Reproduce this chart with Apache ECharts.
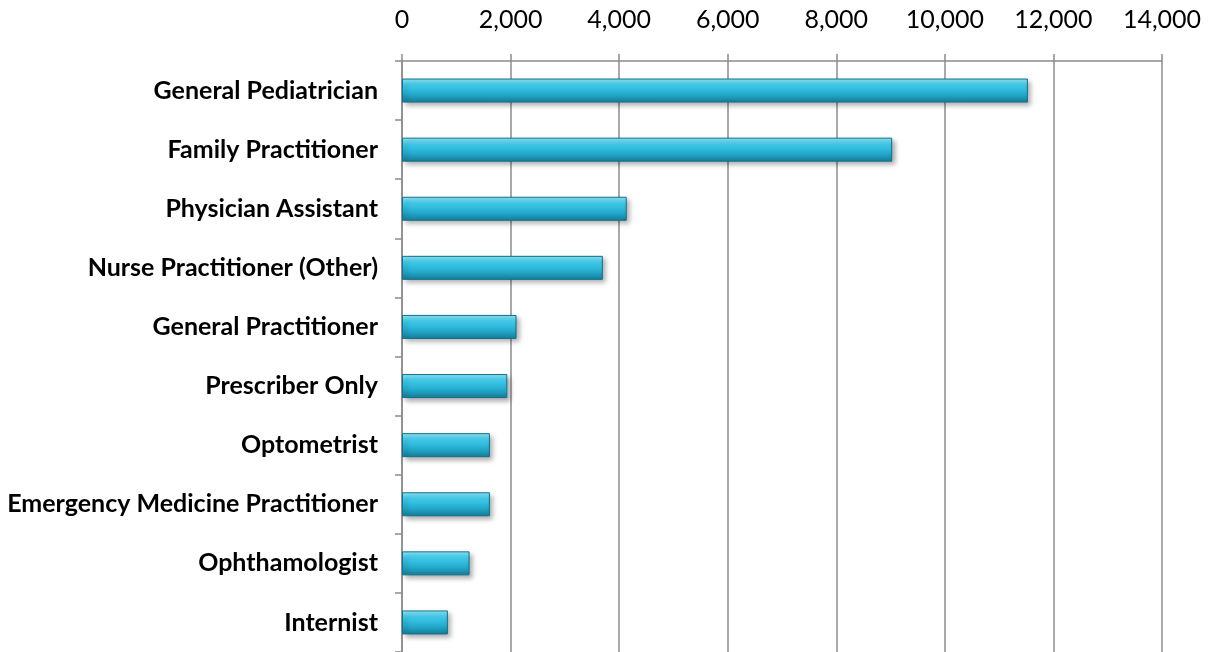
<!DOCTYPE html>
<html>
<head>
<meta charset="utf-8">
<script src="https://cdn.jsdelivr.net/npm/echarts@6/dist/echarts.min.js"></script>
<style>
  html, body { margin: 0; padding: 0; background: #fff; }
  #chart { width: 1209px; height: 652px; }
</style>
</head>
<body>
<div id="chart"></div>
<script>
const categories = [
  'General Pediatrician',
  'Family Practitioner',
  'Physician Assistant',
  'Nurse Practitioner (Other)',
  'General Practitioner',
  'Prescriber Only',
  'Optometrist',
  'Emergency Medicine Practitioner',
  'Ophthamologist',
  'Internist'
]
const counts = [11530, 9030, 4140, 3700, 2110, 1940, 1620, 1620, 1245, 845]

const chart = echarts.init(document.getElementById('chart'))

// bar fill with a glossy look
const barFill = new echarts.graphic.LinearGradient(0, 0, 0, 1, [
  { offset: 0, color: '#8fe8fa' },
  { offset: 0.3, color: '#3cc9ea' },
  { offset: 0.65, color: '#24abcd' },
  { offset: 1, color: '#167c98' }
])

const option = {
  animation: false,
  grid: {
    left: 402,
    right: 47,
    top: 61,
    height: 592
  },
  xAxis: {
    type: 'value',
    position: 'top',
    min: 0,
    max: 14000,
    interval: 2000,
    axisLine: { show: true, lineStyle: { color: '#8c8c8c', width: 1.5 } },
    axisTick: { show: true, length: 7, lineStyle: { color: '#8c8c8c', width: 1.5 } },
    splitLine: { show: true, lineStyle: { color: '#8c8c8c', width: 1.5 } },
    axisLabel: {
      margin: 29,
      fontFamily: 'Lato',
      fontSize: 25,
      color: '#000',
      formatter: v => v.toLocaleString('en-US')
    }
  },
  yAxis: {
    type: 'category',
    inverse: true,
    data: categories,
    axisLine: { show: true, lineStyle: { color: '#8c8c8c', width: 1.5 } },
    axisTick: { show: true, length: 7, lineStyle: { color: '#8c8c8c', width: 1.5 } },
    axisLabel: {
      margin: 24,
      fontFamily: 'Lato',
      fontWeight: 'bold',
      fontSize: 25,
      color: '#000'
    }
  },
  series: [
    {
      type: 'bar',
      data: counts,
      barWidth: 24,
      itemStyle: {
        color: barFill,
        borderColor: '#13718b',
        borderWidth: 1,
        shadowColor: 'rgba(0,0,0,0.35)',
        shadowBlur: 5,
        shadowOffsetX: 3,
        shadowOffsetY: 3
      }
    }
  ]
}

chart.setOption(option)
</script>
</body>
</html>
